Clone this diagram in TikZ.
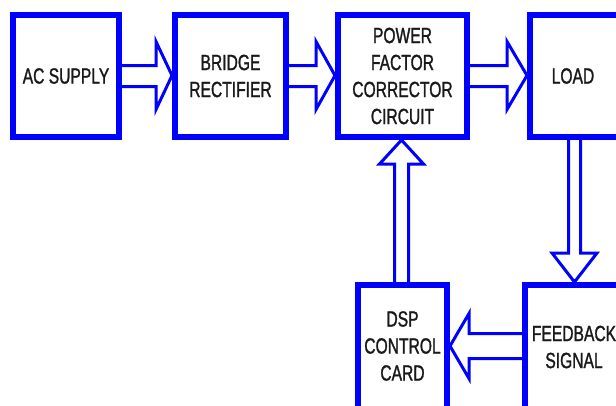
\documentclass[tikz,border=0pt]{standalone}
\usepackage{fontspec}
\setmainfont{Liberation Sans}[FakeStretch=0.71,FakeBold=1.2]
\usetikzlibrary{calc}
\pgfdeclarelayer{bg}
\pgfsetlayers{bg,main}
\definecolor{bblue}{RGB}{0,0,255}
\definecolor{txt}{RGB}{25,25,25}
\tikzset{
  box/.style={draw=bblue, line width=6pt, rectangle, inner sep=0pt, text=txt, align=center,
    font=\fontsize{22}{27}\selectfont},
  lbl/.style={inner sep=0pt, text=txt, align=center, font=\fontsize{22}{27}\selectfont},
  barrow/.style={draw=bblue, fill=white, line width=3pt, line join=miter}
}
\begin{document}
\begin{tikzpicture}[x=1pt,y=1pt]
\useasboundingbox (0,0) rectangle (616,-405);
\clip (0,0) rectangle (616,-405);
% boxes
\node[box, minimum width=106, minimum height=122] (ac) at (66,-76) {AC SUPPLY};
\node[box, minimum width=111, minimum height=122] (bridge) at (230.5,-76) {BRIDGE\\RECTIFIER};
\node[box, minimum width=129, minimum height=122] (pfc) at (402.5,-76) {POWER\\FACTOR\\CORRECTOR\\CIRCUIT};
\node[box, minimum width=120, minimum height=122] (load) at (590,-76) {};
\node[lbl] (loadtxt) at (573,-76) {LOAD};
\node[box, minimum width=89, minimum height=140] (dsp) at (402.5,-355) {};
\node[lbl] (dsptxt) at (402.5,-346) {DSP\\CONTROL\\CARD};
\node[box, minimum width=125, minimum height=140] (fb) at (587.5,-355) {};
\node[lbl] (fbtxt) at (574,-347) {FEEDBACK\\SIGNAL};
% arrows
\begin{pgfonlayer}{bg}
\fill[white] (0,0) rectangle (616,-405);
\draw[barrow] let \p1=(ac.east), \p2=(bridge.west) in
  (\x1-4,-65.5) -- (\x2-16,-65.5) -- (\x2-16,-41.5) -- (\x2,-75.5) -- (\x2-16,-109.5) -- (\x2-16,-86.5) -- (\x1-4,-86.5) -- cycle;
\draw[barrow] let \p1=(bridge.east), \p2=(pfc.west) in
  (\x1-4,-65.5) -- (\x2-19,-65.5) -- (\x2-19,-41.5) -- (\x2,-75.5) -- (\x2-19,-109.5) -- (\x2-19,-86.5) -- (\x1-4,-86.5) -- cycle;
\draw[barrow] let \p1=(pfc.east), \p2=(load.west) in
  (\x1-4,-65.5) -- (\x2-20,-65.5) -- (\x2-20,-41.5) -- (\x2,-75.5) -- (\x2-20,-109.5) -- (\x2-20,-86.5) -- (\x1-4,-86.5) -- cycle;
\draw[barrow] let \p1=(dsp.north), \p2=(pfc.south) in
  (401.5-7,\y1-4) -- (401.5-7,\y2-24) -- (401.5-22,\y2-24) -- (401.5,\y2) -- (401.5+22,\y2-24) -- (401.5+7,\y2-24) -- (401.5+7,\y1-4) -- cycle;
\draw[barrow] let \p1=(load.south), \p2=(fb.north) in
  (574.5-6,\y1+4) -- (574.5-6,\y2+29) -- (574.5-22.5,\y2+29) -- (574.5,\y2) -- (574.5+22.5,\y2+29) -- (574.5+6,\y2+29) -- (574.5+6,\y1+4) -- cycle;
\draw[barrow] let \p1=(fb.west), \p2=(dsp.east) in
  (\x1+4,-333.5) -- (\x2+19,-333.5) -- (\x2+19,-313.5) -- (\x2,-346) -- (\x2+19,-378.5) -- (\x2+19,-358.5) -- (\x1+4,-358.5) -- cycle;
\end{pgfonlayer}
\end{tikzpicture}
\end{document}
